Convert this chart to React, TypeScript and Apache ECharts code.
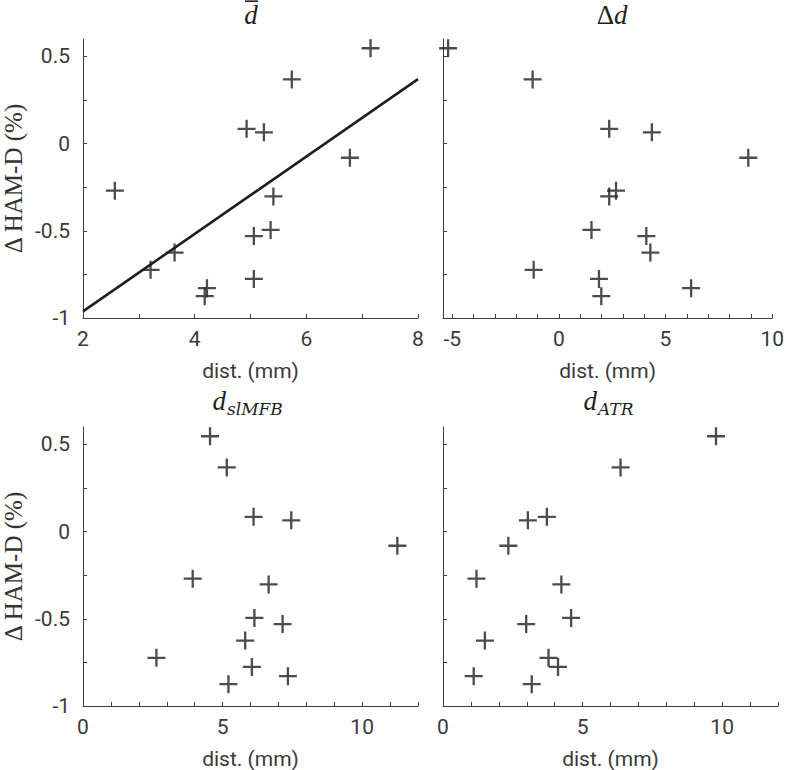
import React, { useEffect, useRef } from 'react';
import * as echarts from 'echarts';

// Δ HAM-D (%) per subject (shared by all panels)
const hamdChange = [0.547, 0.368, 0.085, 0.065, -0.081, -0.270, -0.303, -0.495, -0.530, -0.625, -0.724, -0.776, -0.829, -0.875];
// distances (mm) per panel
const distMean = [7.15, 5.74, 4.93, 5.24, 6.78, 2.57, 5.41, 5.36, 5.06, 3.64, 3.21, 5.06, 4.22, 4.18];
const distDelta = [-5.19, -1.23, 2.36, 4.36, 8.88, 2.68, 2.36, 1.53, 4.10, 4.29, -1.18, 1.88, 6.20, 1.99];
const distSlMFB = [4.55, 5.15, 6.11, 7.46, 11.26, 3.93, 6.65, 6.14, 7.15, 5.81, 2.63, 6.05, 7.34, 5.21];
const distATR = [9.78, 6.36, 3.72, 3.04, 2.34, 1.20, 4.24, 4.59, 2.98, 1.50, 3.78, 4.12, 1.10, 3.18];

// regression line of the mean-distance panel
const fitX = [2, 8];
const fitY = [-0.962, 0.37];

// axis ticks / labels
const yTicks = [-1, -0.75, -0.5, -0.25, 0, 0.25, 0.5];
const yLabels = [-1, -0.5, 0, 0.5];
const xTicksMean = [2, 3, 4, 5, 6, 7, 8];
const xLabelsMean = [2, 4, 6, 8];
const xTicksDelta = [-5, -4, -3, -2, -1, 0, 1, 2, 3, 4, 5, 6, 7, 8, 9, 10];
const xLabelsDelta = [-5, 0, 5, 10];
const xTicksSide = [0, 1, 2, 3, 4, 5, 6, 7, 8, 9, 10, 11, 12];
const xLabelsSide = [0, 5, 10];

const INK = '#1f1f1f';
const AXIS = '#3f3f3f';
const LABEL = '#3a3a3a';
const SANS = 'Roboto';
const SERIF = 'Liberation Serif';
const PLUS = 'path://M-1.15,-9H1.15V-1.15H9V1.15H1.15V9H-1.15V1.15H-9V-1.15H-1.15Z';

function pairs(xs: number[], ys: number[]) {
  return xs.map((x, i) => [x, ys[i]]);
}

export default function App() {
  const ref = useRef<HTMLDivElement>(null);
  useEffect(() => {
    const chart = echarts.init(ref.current!, null, { renderer: 'svg' });
    const grids = [
      { left: 83, top: 39, width: 335, height: 279 },
      { left: 443, top: 39, width: 335, height: 279 },
      { left: 83, top: 427, width: 335, height: 279 },
      { left: 443, top: 427, width: 335, height: 279 },
    ];
    const xDefs = [
      { min: 2, max: 8, ticks: xTicksMean, labels: xLabelsMean },
      { min: -5.43, max: 10, ticks: xTicksDelta, labels: xLabelsDelta },
      { min: 0, max: 12, ticks: xTicksSide, labels: xLabelsSide },
      { min: 0, max: 12, ticks: xTicksSide, labels: xLabelsSide },
    ];
    const xAxis = xDefs.map((d, i) => ({
      type: 'value',
      gridIndex: i,
      min: d.min,
      max: d.max,
      name: 'dist. (mm)',
      nameLocation: 'middle',
      nameGap: 42,
      nameTextStyle: { fontFamily: SANS, fontSize: 21, color: LABEL },
      axisLine: { show: true, onZero: false, lineStyle: { color: AXIS, width: 1 } },
      axisTick: { show: true, inside: true, length: 4, customValues: d.ticks, lineStyle: { color: AXIS } },
      axisLabel: { customValues: d.labels, fontFamily: SANS, fontSize: 21, color: LABEL, margin: 10 },
      splitLine: { show: false },
    }));
    const yAxis = [0, 1, 2, 3].map((i) => ({
      type: 'value',
      gridIndex: i,
      min: -1,
      max: 0.6,
      name: i % 2 === 0 ? '\u0394 HAM-D (%)' : '',
      nameLocation: 'middle',
      nameGap: 57,
      nameTextStyle: { fontFamily: SERIF, fontSize: 25, color: '#333' },
      axisLine: { show: true, onZero: false, lineStyle: { color: AXIS, width: 1 } },
      axisTick: { show: true, inside: true, length: 4, customValues: yTicks, lineStyle: { color: AXIS } },
      axisLabel: { show: i % 2 === 0, customValues: yLabels, fontFamily: SANS, fontSize: 21, color: LABEL, margin: 13 },
      splitLine: { show: false },
    }));
    const scatter = (xs: number[], i: number) => ({
      type: 'scatter',
      xAxisIndex: i,
      yAxisIndex: i,
      data: pairs(xs, hamdChange),
      symbol: PLUS,
      symbolSize: 18,
      itemStyle: { color: INK },
      silent: true,
    });
    const titleStyle = (size: number, italic: boolean) => ({
      font: `${italic ? 'italic ' : ''}${size}px "${SERIF}"`,
      fill: INK,
    });
    const option = {
      animation: false,
      grid: grids,
      xAxis,
      yAxis,
      series: [
        scatter(distMean, 0),
        {
          type: 'line',
          xAxisIndex: 0,
          yAxisIndex: 0,
          data: pairs(fitX, fitY),
          showSymbol: false,
          lineStyle: { color: INK, width: 2.6 },
          silent: true,
        },
        scatter(distDelta, 1),
        scatter(distSlMFB, 2),
        scatter(distATR, 3),
      ],
      graphic: [
        // d-bar
        { type: 'text', x: 251, y: 15, style: { text: 'd', ...titleStyle(27, true), align: 'center', verticalAlign: 'middle' } },
        { type: 'line', shape: { x1: 245, y1: 1.2, x2: 258, y2: 1.2 }, style: { stroke: INK, lineWidth: 1.6 } },
        // Δd
        { type: 'text', x: 614, y: 15, style: { text: '\u0394', ...titleStyle(27, false), align: 'right', verticalAlign: 'middle' } },
        { type: 'text', x: 614, y: 15, style: { text: 'd', ...titleStyle(27, true), align: 'left', verticalAlign: 'middle' } },
        // d_slMFB
        { type: 'text', x: 226, y: 401, style: { text: 'd', ...titleStyle(27, true), align: 'right', verticalAlign: 'middle' } },
        { type: 'text', x: 227, y: 409, style: { text: 'slMFB', font: 'italic 17px "DejaVu Serif"', fill: INK, align: 'left', verticalAlign: 'middle' } },
        // d_ATR
        { type: 'text', x: 597, y: 401, style: { text: 'd', ...titleStyle(27, true), align: 'right', verticalAlign: 'middle' } },
        { type: 'text', x: 598, y: 409, style: { text: 'ATR', font: 'italic 17px "DejaVu Serif"', fill: INK, align: 'left', verticalAlign: 'middle' } },
      ],
    };
    chart.setOption(option as any);
    return () => chart.dispose();
  }, []);
  return (
    <div
      ref={ref}
      style={{ position: 'absolute', left: 0, top: 0, width: 787, height: 770, background: '#fff' }}
    />
  );
}
